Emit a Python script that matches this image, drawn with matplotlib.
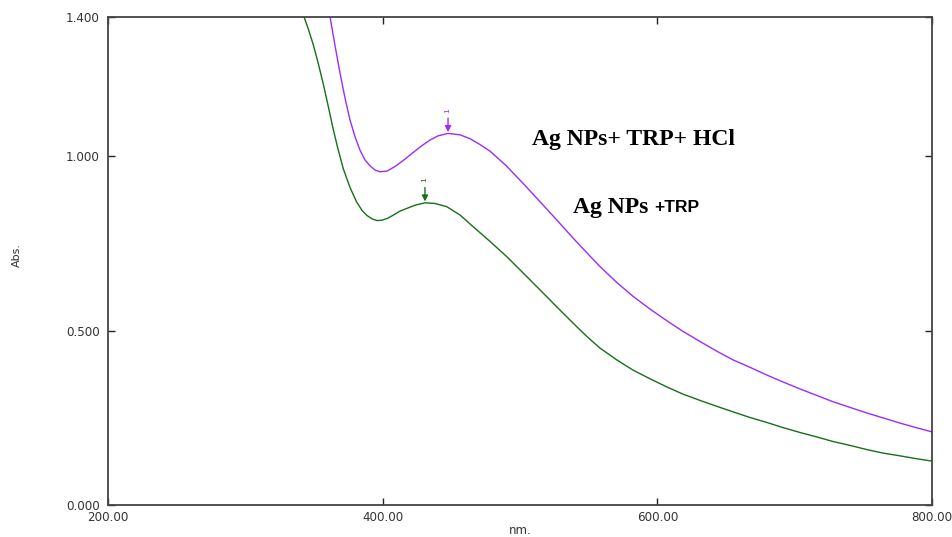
import matplotlib
matplotlib.use("Agg")
import matplotlib.pyplot as plt

# ---- data ----
purple_nm = [361.7, 365.3, 368.9, 372.6, 376.2, 379.9, 383.5, 387.1, 390.8, 394.4, 398.1,
             403.2, 409.0, 415.5, 422.1, 428.6, 434.5, 440.3, 447.6, 456.3, 463.6, 470.9,
             478.2, 489.8, 502.4, 514.6, 526.7, 538.6, 551.0, 558.3, 570.6, 582.5, 594.7,
             606.8, 618.7, 631.1, 643.4, 655.3, 667.5, 679.6, 691.5, 703.9, 716.3, 728.1,
             740.3, 752.5, 764.3, 776.7, 788.4, 799.8]
purple_abs = [1.400, 1.318, 1.240, 1.167, 1.105, 1.056, 1.018, 0.990, 0.973, 0.961, 0.956,
              0.958, 0.971, 0.990, 1.011, 1.031, 1.047, 1.059, 1.066, 1.062, 1.051, 1.034,
              1.015, 0.974, 0.922, 0.870, 0.818, 0.766, 0.714, 0.684, 0.638, 0.598, 0.562,
              0.529, 0.498, 0.469, 0.441, 0.416, 0.395, 0.373, 0.353, 0.333, 0.314, 0.296,
              0.280, 0.264, 0.250, 0.235, 0.222, 0.210]

green_nm = [342.7, 346.0, 349.5, 352.9, 356.8, 360.2, 364.1, 367.5, 371.3, 376.2, 381.1,
            385.0, 388.4, 392.2, 395.9, 399.5, 403.9, 408.3, 412.6, 417.7, 423.5, 430.8,
            438.1, 446.6, 456.3, 466.0, 478.2, 490.5, 502.2, 514.6, 526.9, 538.6, 548.8,
            558.3, 570.6, 582.3, 594.7, 606.8, 618.7, 631.1, 643.4, 655.3, 667.5, 679.6,
            691.5, 703.9, 716.3, 728.1, 740.3, 752.5, 764.3, 776.7, 788.4, 799.8]
green_abs = [1.401, 1.364, 1.320, 1.270, 1.207, 1.147, 1.076, 1.021, 0.965, 0.911, 0.869,
             0.845, 0.831, 0.821, 0.816, 0.817, 0.823, 0.833, 0.843, 0.851, 0.860, 0.867,
             0.865, 0.856, 0.832, 0.798, 0.756, 0.712, 0.666, 0.617, 0.568, 0.522, 0.483,
             0.450, 0.416, 0.387, 0.362, 0.339, 0.318, 0.300, 0.283, 0.267, 0.251, 0.237,
             0.222, 0.208, 0.195, 0.182, 0.171, 0.159, 0.149, 0.141, 0.133, 0.126]

peak_nm = [447.6, 430.8]
peak_abs = [1.066, 0.867]
peak_labels = ["1", "1"]

x_ticks = [200, 400, 600, 800]
y_ticks = [0.0, 0.5, 1.0, 1.4]

purple = "#9a2cff"
green = "#167016"
colors = [purple, green]

W, H = 952, 537
fig = plt.figure(figsize=(W / 100, H / 100), dpi=100)
ax = fig.add_axes([108 / W, 32 / H, 824 / W, 488 / H])

ax.plot(purple_nm, purple_abs, color=purple, lw=1.0, solid_joinstyle="round")
ax.plot(green_nm, green_abs, color=green, lw=1.0, solid_joinstyle="round")

ax.set_xlim(200, 800)
ax.set_ylim(0, 1.4)
ax.set_xticks(x_ticks)
ax.set_yticks(y_ticks)
ax.set_xticklabels([f"{v:.2f}" for v in x_ticks])
ax.set_yticklabels([f"{v:.3f}" for v in y_ticks])
ax.tick_params(direction="in", length=5, width=1.0, colors="#222222",
               top=True, right=True, labelsize=8.6)
ax.tick_params(axis="x", pad=4)
ax.tick_params(axis="y", pad=6)
for lab in ax.get_xticklabels() + ax.get_yticklabels():
    lab.set_family(["DejaVu Sans"])
    lab.set_color("#333333")
for s in ax.spines.values():
    s.set_color("#444444")
    s.set_linewidth(1.3)

fig.text(17 / W, 1 - 255 / H, "Abs.", rotation=90, fontsize=8, color="#333333",
         family=["DejaVu Sans"], ha="center", va="center")
fig.text(520 / W, 1 - 531 / H, "nm.", fontsize=8.5, color="#333333",
         family=["DejaVu Sans"], ha="center", va="center")

# peak markers
for xp, yp, lbl, c in zip(peak_nm, peak_abs, peak_labels, colors):
    ax.annotate("", xy=(xp, yp), xycoords="data",
                xytext=(0, 11), textcoords="offset points",
                arrowprops=dict(arrowstyle="-|>,head_length=0.35,head_width=0.18",
                                color=c, lw=1.0, shrinkA=0, shrinkB=1))
    ax.annotate(lbl, xy=(xp, yp), xycoords="data", xytext=(0, 15),
                textcoords="offset points", rotation=90, color=c,
                fontsize=6, ha="center", va="bottom",
                family=["Liberation Sans"])

# annotations
ax.text((532 - 108) / 824, (505 - 139) / 488, "Ag NPs+ TRP+ HCl", transform=ax.transAxes,
        fontsize=17, fontweight="bold", family=["Liberation Serif"],
        ha="left", va="center", color="black")
ty = (505 - 208) / 488
t1 = ax.text((573 - 108) / 824, ty, "Ag NPs ", transform=ax.transAxes,
             fontsize=17, fontweight="bold", family=["Liberation Serif"],
             ha="left", va="center", color="black")
fig.canvas.draw()
bb = t1.get_window_extent()
x_end = ax.transAxes.inverted().transform((bb.x1, bb.y0))[0]
ax.text(x_end, ty, "+TRP", transform=ax.transAxes,
        fontsize=12.5, fontweight="bold", family=["Liberation Sans"],
        ha="left", va="center", color="black")

fig.savefig("out.png", dpi=100)
